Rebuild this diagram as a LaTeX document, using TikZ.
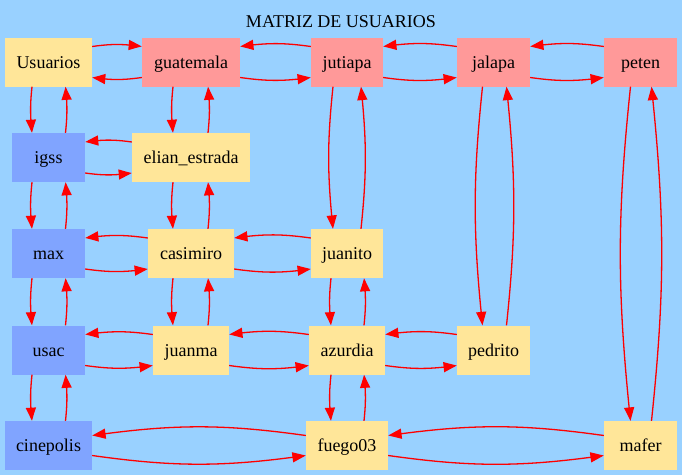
\documentclass[tikz,border=0pt]{standalone}
\usepackage{fontspec}
\setmainfont{Liberation Serif}
\usetikzlibrary{arrows.meta,bending}
\definecolor{bg}{HTML}{99D1FF}
\definecolor{pinkn}{HTML}{FF9999}
\definecolor{yelln}{HTML}{FFE699}
\definecolor{bluen}{HTML}{80A4FF}
\tikzset{
  nd/.style={rectangle, inner sep=0pt, minimum height=49pt, text height=16pt, text depth=4pt, font=\rmfamily\fontsize{18}{20}\selectfont, text=black},
  pk/.style={nd, fill=pinkn},
  yl/.style={nd, fill=yelln},
  bl/.style={nd, fill=bluen},
  e/.style={draw=red, line width=1.3pt, -{Triangle[length=13.5pt,width=10pt,bend]}, fill=none},
}
\newcommand\hpair[3]{%
  \draw[e] ([yshift=#3]#2.west) to[bend right=8] ([yshift=#3]#1.east);
  \draw[e] ([yshift=-#3]#1.east) to[bend right=8] ([yshift=-#3]#2.west);
}
\newcommand\vpair[4]{%
  \draw[e] ([xshift=-#3]#1.south) to[bend right=6] ([xshift=-#3]#2.north);
  \draw[e] ([xshift=#4]#2.north) to[bend right=6] ([xshift=#4]#1.south);
}
\begin{document}
\begin{tikzpicture}[x=1pt,y=-1pt]
\fill[bg] (0,0) rectangle (682,475);
\useasboundingbox (0,0) rectangle (682,475);
\node[anchor=base, font=\rmfamily\fontsize{18}{20}\selectfont] (title) at (341,27) {MATRIZ DE USUARIOS};
% row 1
\node[yl, minimum width=87pt] (usuarios) at (48.5,62) {Usuarios};
\node[pk, minimum width=98pt] (guatemala) at (191,62) {guatemala};
\node[pk, minimum width=72pt] (jutiapa) at (347,62) {jutiapa};
\node[pk, minimum width=73pt] (jalapa) at (493.5,62) {jalapa};
\node[pk, minimum width=73pt] (peten) at (640.5,62) {peten};
% row 2
\node[bl, minimum width=73pt] (igss) at (48.5,157.5) {igss};
\node[yl, minimum width=118pt] (elian) at (191,157.5) {elian\_estrada};
% row 3
\node[bl, minimum width=73pt] (max) at (48.5,253.5) {max};
\node[yl, minimum width=86pt] (casimiro) at (191,253.5) {casimiro};
\node[yl, minimum width=72pt] (juanito) at (347,253.5) {juanito};
% row 4
\node[bl, minimum width=73pt] (usac) at (48.5,350) {usac};
\node[yl, minimum width=76pt] (juanma) at (191,350) {juanma};
\node[yl, minimum width=76pt] (azurdia) at (347,350) {azurdia};
\node[yl, minimum width=73pt] (pedrito) at (493.5,350) {pedrito};
% row 5
\node[bl, minimum width=87pt] (cinepolis) at (48.5,445.5) {cinepolis};
\node[yl, minimum width=82pt] (fuego) at (347,445.5) {fuego03};
\node[yl, minimum width=73pt] (mafer) at (640.5,445.5) {mafer};
% horizontal edges
\draw[e] ([yshift=15.5pt]usuarios.east) to[bend left=8] ([yshift=15.5pt]guatemala.west);
\draw[e] ([yshift=-15.5pt]guatemala.west) to[bend left=8] ([yshift=-15.5pt]usuarios.east);
\hpair{guatemala}{jutiapa}{15.5pt}
\hpair{jutiapa}{jalapa}{15.5pt}
\hpair{jalapa}{peten}{15.5pt}
\hpair{igss}{elian}{15.5pt}
\hpair{max}{casimiro}{15.5pt}
\hpair{casimiro}{juanito}{15.5pt}
\hpair{usac}{juanma}{15.5pt}
\hpair{juanma}{azurdia}{15.5pt}
\hpair{azurdia}{pedrito}{15.5pt}
\hpair{cinepolis}{fuego}{10pt}
\hpair{fuego}{mafer}{10pt}
% vertical edges
\vpair{usuarios}{igss}{16.5pt}{17pt}
\vpair{igss}{max}{16.5pt}{17pt}
\vpair{max}{usac}{16.5pt}{17pt}
\vpair{usac}{cinepolis}{16.5pt}{17pt}
\vpair{guatemala}{elian}{18pt}{17pt}
\vpair{elian}{casimiro}{18pt}{17pt}
\vpair{casimiro}{juanma}{18pt}{17pt}
\vpair{jutiapa}{juanito}{14pt}{14pt}
\vpair{juanito}{azurdia}{16pt}{17pt}
\vpair{azurdia}{fuego}{16pt}{17pt}
\vpair{jalapa}{pedrito}{11pt}{13pt}
\vpair{peten}{mafer}{10pt}{11pt}
\end{tikzpicture}
\end{document}
